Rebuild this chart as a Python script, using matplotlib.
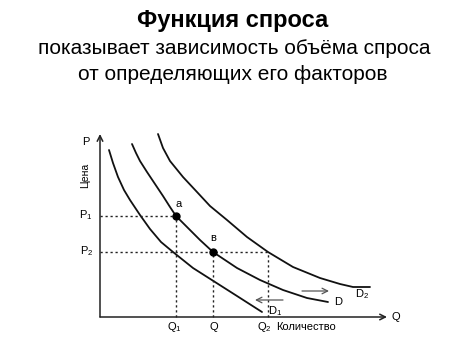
import matplotlib
matplotlib.use("Agg")
import matplotlib.pyplot as plt

plt.rcParams["font.family"] = ["Liberation Sans", "DejaVu Sans"]
plt.rcParams["mathtext.fontset"] = "custom"
plt.rcParams["mathtext.rm"] = "Liberation Sans"

# Demand curves: quantity (Q) and price (P) pairs
d1_q = [0.9, 1.3, 1.8, 2.4, 3.0, 4.0, 5.0, 6.1, 7.3, 9.3, 11.5, 13.7, 16.2]
d1_p = [16.7, 15.4, 14.0, 12.7, 11.7, 10.2, 8.8, 7.5, 6.5, 4.9, 3.5, 2.1, 0.5]

d_q = [3.2, 3.6, 4.0, 4.7, 5.5, 6.3, 7.0, 7.6, 8.7, 10.0, 11.3, 13.7, 16.0,
       18.3, 20.7, 22.8]
d_p = [17.3, 16.4, 15.6, 14.5, 13.3, 12.1, 11.0, 10.1, 9.0, 7.7, 6.5, 4.9, 3.7,
       2.7, 1.9, 1.5]

d2_q = [5.8, 6.3, 7.0, 8.3, 9.7, 11.0, 12.7, 14.7, 16.8, 19.3, 22.0, 24.0,
        25.3, 27.0]
d2_p = [18.3, 16.9, 15.6, 14.0, 12.5, 11.1, 9.7, 8.0, 6.5, 5.0, 3.9, 3.3,
        3.0, 3.0]

# Price and quantity levels
p1, p2 = 10.1, 6.5
q1, q0, q2 = 7.6, 11.3, 16.8
p_max, q_max = 18.3, 28.7

fig = plt.figure(figsize=(4.74, 3.55), dpi=100)
ax = fig.add_axes([0, 0, 1, 1])
ax.set_xlim(-10.0, 37.4)
ax.set_ylim(-3.8, 31.7)
ax.axis("off")

# Axes with arrows
ax.annotate("", xy=(0, p_max), xytext=(0, 0),
            arrowprops=dict(arrowstyle="->", lw=1.1, color="#222222",
                            shrinkA=0, shrinkB=0))
ax.annotate("", xy=(q_max, 0), xytext=(0, 0),
            arrowprops=dict(arrowstyle="->", lw=1.1, color="#222222",
                            shrinkA=0, shrinkB=0))

# Curves
for qs, ps in [(d1_q, d1_p), (d_q, d_p), (d2_q, d2_p)]:
    ax.plot(qs, ps, color="#111111", lw=1.3, solid_capstyle="round",
            solid_joinstyle="round")

# Dotted guide lines
dots = dict(color="#222222", lw=1.0, linestyle=(0, (1.6, 2.0)))
ax.plot([0, q1], [p1, p1], **dots)
ax.plot([0, q2], [p2, p2], **dots)
ax.plot([q1, q1], [0, p1], **dots)
ax.plot([q0, q0], [0, p2], **dots)
ax.plot([q2, q2], [0, p2], **dots)

# Points a and в
ax.plot([q1, q0], [p1, p2], "o", color="black", markersize=5)
fs = 8
ax.text(q1 + 0.3, p1 + 0.7, "a", fontsize=fs, ha="center", va="bottom")
ax.text(q0, p2 + 0.9, "в", fontsize=fs, ha="center", va="bottom")

# Axis labels
ax.text(-1.4, 17.5, "P", fontsize=fs, ha="center", va="center")
ax.text(-1.5, 14.2, "Цена", fontsize=7.5, ha="center", va="center", rotation=90)
ax.text(-0.7, p1 + 0.1, r"P$_\mathregular{1}$", fontsize=fs, ha="right", va="center")
ax.text(-0.7, p2 + 0.1, r"P$_\mathregular{2}$", fontsize=fs, ha="right", va="center")
ax.text(q1 - 0.2, -1.0, r"Q$_\mathregular{1}$", fontsize=fs, ha="center", va="center")
ax.text(q0 + 0.1, -1.0, "Q", fontsize=fs, ha="center", va="center")
ax.text(q2 - 0.4, -1.0, r"Q$_\mathregular{2}$", fontsize=fs, ha="center", va="center")
ax.text(20.6, -0.95, "Количество", fontsize=fs, ha="center", va="center")
ax.text(q_max + 0.5, -0.05, "Q", fontsize=fs, ha="left", va="center")

# Curve labels
ax.text(17.5, 0.6, r"D$_\mathregular{1}$", fontsize=fs, ha="center", va="center")
ax.text(23.8, 1.5, "D", fontsize=fs, ha="center", va="center")
ax.text(26.2, 2.3, r"D$_\mathregular{2}$", fontsize=fs, ha="center", va="center")

# Shift arrows
arr = dict(arrowstyle="->", lw=0.9, color="#555555", shrinkA=0, shrinkB=0)
ax.annotate("", xy=(22.9, 2.6), xytext=(20.2, 2.6), arrowprops=arr)
ax.annotate("", xy=(15.5, 1.7), xytext=(18.3, 1.7), arrowprops=arr)

# Heading
fig.text(233 / 474, 1 - 21 / 355, "Функция спроса", fontsize=17,
         fontweight="bold", ha="center", va="center")
fig.text(234 / 474, 1 - 49 / 355, "показывает зависимость объёма спроса",
         fontsize=15, ha="center", va="center")
fig.text(233 / 474, 1 - 74 / 355, "от определяющих его факторов",
         fontsize=15, ha="center", va="center")

fig.savefig("out.png", dpi=100, facecolor="white")
